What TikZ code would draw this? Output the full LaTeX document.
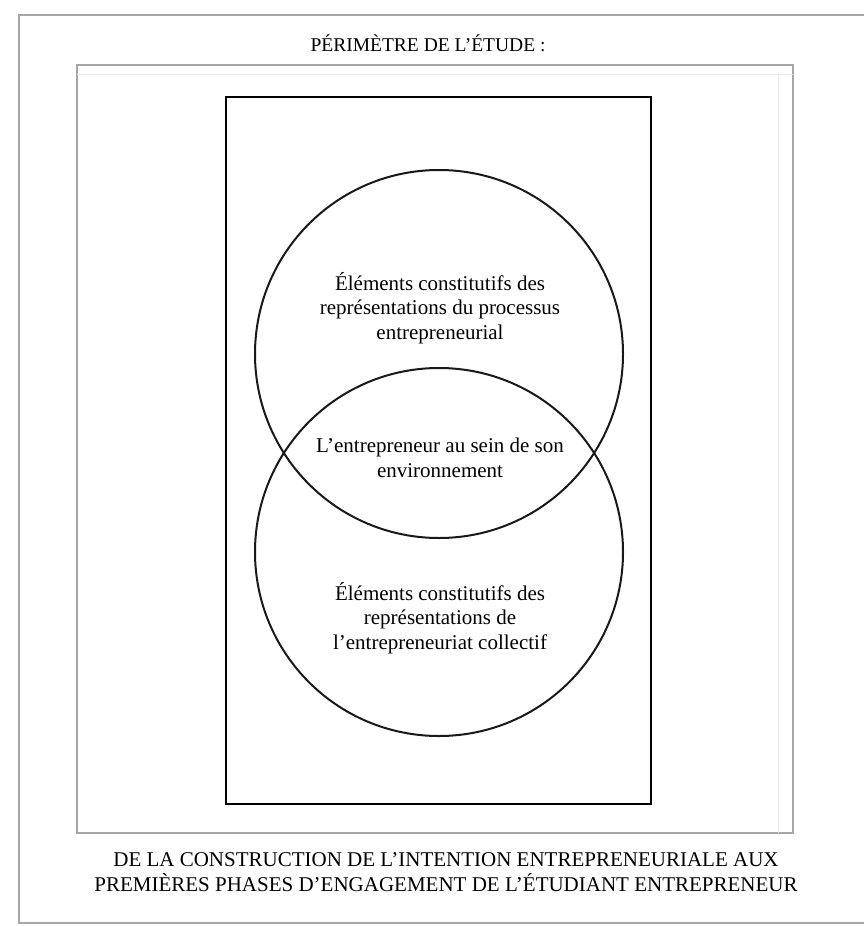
\documentclass[tikz,border=0pt]{standalone}
\usepackage{fontspec}
\setmainfont{Liberation Serif}
\begin{document}
\begin{tikzpicture}[x=1pt,y=-1pt,
  frame/.style={draw=black!35,line width=1.4pt},
  scopebox/.style={draw=black,line width=2.8pt},
  ring/.style={draw=black!90,line width=2pt},
  label/.style={align=center,text=black,font=\fontsize{21}{24.5}\selectfont,inner sep=0pt},
  caption/.style={align=center,text=black,font=\fontsize{21}{25}\selectfont,inner sep=0pt}]
\useasboundingbox (0,0) rectangle (864,926);
\fill[white] (0,0) rectangle (864,926);

% outer and inner frames
\draw[frame] (19,15) rectangle (875,923);
\draw[frame] (77,65) rectangle (793,833);
\draw[draw=black!8,line width=0.8pt] (77,74) -- (793,74);
\draw[draw=black!8,line width=0.8pt] (778,74) -- (778,833);

% scope rectangle
\draw[scopebox] (226,97) rectangle (651,804);

% the two overlapping sets
\node[ring,circle,minimum size=368pt,inner sep=0pt] (upper) at (439,354) {};
\node[ring,circle,minimum size=368pt,inner sep=0pt] (lower) at (439,552) {};

% texts
\node[caption,font=\fontsize{19.5}{24}\selectfont] (title) at (428,43) {PÉRIMÈTRE DE L'ÉTUDE :};
\node[label] (tupper) at (440,308) {Éléments constitutifs des\\représentations du processus\\entrepreneurial};
\node[label] (tmid) at (440,458) {L'entrepreneur au sein de son\\environnement};
\node[label] (tlower) at (440,618) {Éléments constitutifs des\\représentations de\\l'entrepreneuriat collectif};
\node[caption] (bottom) at (446,872) {DE LA CONSTRUCTION DE L'INTENTION ENTREPRENEURIALE AUX\\PREMIÈRES PHASES D'ENGAGEMENT DE L'ÉTUDIANT ENTREPRENEUR};
\end{tikzpicture}
\end{document}
